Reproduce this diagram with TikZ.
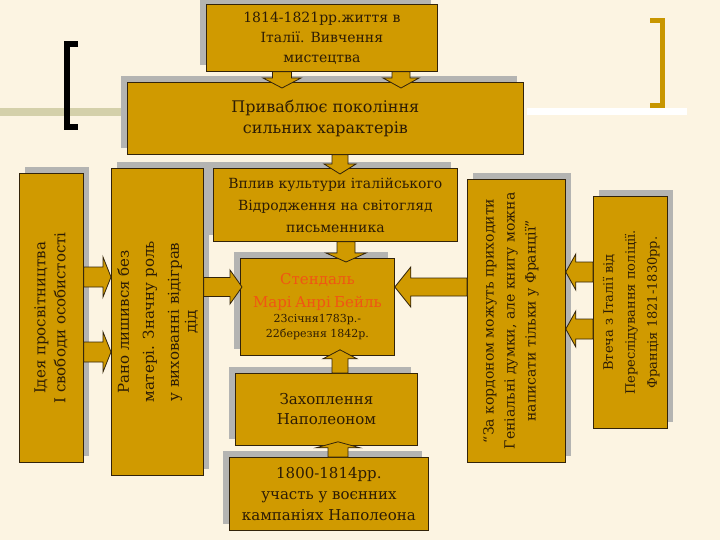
\documentclass[tikz,border=0pt]{standalone}
\usepackage{fontspec}
\setmainfont{DejaVu Serif}
\usetikzlibrary{calc,shadows}
\definecolor{bg}{RGB}{252,244,226}
\definecolor{gold}{RGB}{208,154,0}
\definecolor{sgrey}{RGB}{180,180,178}
\definecolor{edge}{RGB}{50,35,10}
\definecolor{ink}{RGB}{45,28,5}
\definecolor{redink}{RGB}{240,85,20}
\definecolor{bracketgold}{RGB}{200,150,0}
\definecolor{band}{RGB}{212,208,170}
\tikzset{
  box/.style={fill=gold, draw=edge, line width=0.8pt, text=ink, inner sep=0pt, align=center},
  shUL/.style={drop shadow={shadow xshift=-6pt, shadow yshift=6pt, fill=sgrey, opacity=1}},
  shUR/.style={drop shadow={shadow xshift=6pt, shadow yshift=6pt, fill=sgrey, opacity=1}},
  barrow/.style={fill=gold, draw=edge, line width=0.8pt, line join=miter}
}
\newcommand{\blockarrow}[5]{%
  \coordinate (bh) at ($(#2)!#5!(#1)$);
  \draw[barrow] ($(#1)!#3!90:(#2)$) -- ($(bh)!#3!-90:(#1)$) -- ($(bh)!#4!-90:(#1)$) -- (#2)
    -- ($(bh)!#4!90:(#1)$) -- ($(bh)!#3!90:(#1)$) -- ($(#1)!#3!-90:(#2)$) -- cycle;
}
\begin{document}
\begin{tikzpicture}[x=1pt,y=-1pt]
\useasboundingbox (0,0) rectangle (720,540);
\fill[bg] (0,0) rectangle (720,540);
% background bands
\fill[band] (0,108) rectangle (127,116);
\fill[white] (527,108) rectangle (687,115);
% brackets
\draw[line width=6pt, line cap=butt, line join=miter] (78,44.5) -- (67,44.5) -- (67,127.5) -- (78,127.5);
\draw[bracketgold, line width=5pt, line cap=butt, line join=miter] (650,20.5) -- (662,20.5) -- (662,105.5) -- (650,105.5);

% boxes
\node[box, shUL, anchor=north west, minimum width=231pt, minimum height=67pt,
  font=\fontsize{14}{20}\selectfont] (b1) at (206,4)
  {1814-1821рр.життя в\\Італії. Вивчення\\мистецтва};
\node[box, shUL, anchor=north west, minimum width=396pt, minimum height=72pt,
  font=\fontsize{16}{21}\selectfont] (b2) at (127,82)
  {Приваблює покоління\\сильних характерів};
\node[box, shUL, anchor=north west, minimum width=244pt, minimum height=73pt,
  font=\fontsize{14}{22}\selectfont] (vp) at (213,168)
  {Вплив культури італійського\\Відродження на світогляд\\письменника};
\node[box, shUL, anchor=north west, minimum width=154pt, minimum height=97pt, text width=154pt] (st) at (240,258)
  {{\color{redink}\fontsize{15}{23}\selectfont Стендаль\\Марі Анрі Бейль\par}%
   {\fontsize{11}{15}\selectfont 23січня1783р.-\\22березня 1842р.\par}};
\node[box, shUL, anchor=north west, minimum width=182pt, minimum height=72pt,
  font=\fontsize{15}{20}\selectfont] (zah) at (235,373)
  {Захоплення\\Наполеоном};
\node[box, shUL, anchor=north west, minimum width=199pt, minimum height=73pt,
  font=\fontsize{15}{21}\selectfont] (bb) at (229,457)
  {1800-1814рр.\\участь у воєнних\\кампаніях Наполеона};
\node[box, shUR, anchor=north west, minimum width=64pt, minimum height=289pt] (idea) at (19,173)
  {\rotatebox{90}{\fontsize{15}{20}\selectfont\begin{tabular}{@{}c@{}}Ідея просвітництва\\І свободи особистості\end{tabular}}};
\node[box, shUR, anchor=north west, minimum width=85pt, minimum height=307pt] (rano) at (111,168)
  {\rotatebox{90}{\fontsize{15}{25}\selectfont\begin{tabular}{@{}c@{}}Рано лишився без\\матері. Значну роль\\у вихованні відіграв\\[-8pt]дід\end{tabular}}};
\node[box, shUR, anchor=north west, minimum width=98pt, minimum height=283pt] (kord) at (467,179)
  {\rotatebox{90}{\fontsize{14}{21}\selectfont\begin{tabular}{@{}c@{}}“За кордоном можуть приходити\\Геніальні думки, але книгу можна\\написати тільки у Франції”\end{tabular}}\hspace*{12pt}};
\node[box, shUR, anchor=north west, minimum width=74pt, minimum height=232pt] (vt) at (593,196)
  {\rotatebox{90}{\fontsize{13}{22}\selectfont\begin{tabular}{@{}c@{}}Втеча з Італії від\\Переслідування поліції.\\Франція 1821-1830рр.\end{tabular}}};

% arrow endpoints
\coordinate (a1s) at ($(b1.south west)+(76,0)$);
\coordinate (a1t) at ($(a1s |- b2.north)+(0,6)$);
\coordinate (a2s) at ($(b1.south west)+(195,0)$);
\coordinate (a2t) at ($(a2s |- b2.north)+(0,6)$);
\coordinate (a3s) at ($(b2.south west)+(213,0)$);
\coordinate (a3t) at ($(a3s |- vp.north)+(0,6)$);
\coordinate (a4s) at ($(vp.south west)+(133,0)$);
\coordinate (a4t) at ($(a4s |- st.north)+(0,4)$);
\coordinate (a5s) at ($(zah.north west)+(105,0)$);
\coordinate (a5t) at ($(a5s |- st.south)+(0,-6)$);
\coordinate (a6s) at ($(bb.north west)+(109,0)$);
\coordinate (a6t) at ($(a6s |- zah.south)+(0,-4)$);
\coordinate (a7s) at ($(idea.north east)+(0,104)$);
\coordinate (a7t) at (a7s -| rano.west);
\coordinate (a8s) at ($(idea.north east)+(0,179)$);
\coordinate (a8t) at (a8s -| rano.west);
\coordinate (a9s) at ($(rano.north east)+(0,119)$);
\coordinate (a9t) at ($(a9s -| st.west)+(2,0)$);
\coordinate (a10s) at ($(kord.north west)+(0,108)$);
\coordinate (a10t) at (a10s -| st.east);
\coordinate (a11s) at ($(vt.north west)+(0,76)$);
\coordinate (a11t) at (a11s -| kord.east);
\coordinate (a12s) at ($(vt.north west)+(0,133)$);
\coordinate (a12t) at (a12s -| kord.east);

\blockarrow{a1s}{a1t}{9.5pt}{19pt}{10pt}
\blockarrow{a2s}{a2t}{9pt}{18pt}{10pt}
\blockarrow{a3s}{a3t}{8pt}{16pt}{10pt}
\blockarrow{a4s}{a4t}{9pt}{20pt}{9pt}
\blockarrow{a5s}{a5t}{8pt}{17pt}{9pt}
\blockarrow{a6s}{a6t}{10pt}{22pt}{6pt}
\blockarrow{a7s}{a7t}{10pt}{20pt}{8pt}
\blockarrow{a8s}{a8t}{10pt}{20pt}{8pt}
\blockarrow{a9s}{a9t}{9.5pt}{17pt}{12pt}
\blockarrow{a10s}{a10t}{9pt}{20pt}{16pt}
\blockarrow{a11s}{a11t}{10pt}{18pt}{10pt}
\blockarrow{a12s}{a12t}{10pt}{18pt}{10pt}
\end{tikzpicture}
\end{document}
